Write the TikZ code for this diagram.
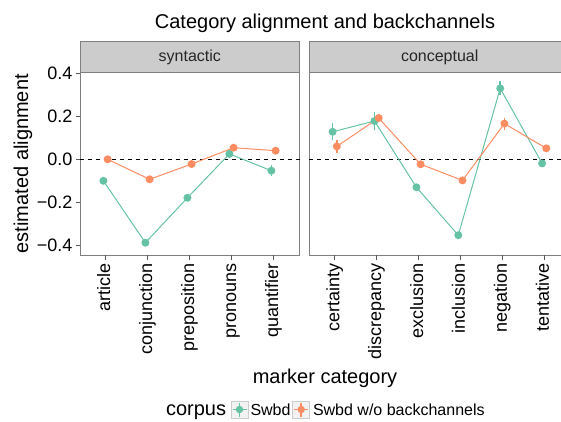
\documentclass[tikz,border=0pt]{standalone}
\usepackage{fontspec}
\setmainfont{Liberation Sans}
\usetikzlibrary{positioning}

\definecolor{swbd}{HTML}{66C2A5}
\definecolor{nobc}{HTML}{FC8D62}
\definecolor{frame}{HTML}{7F7F7F}
\definecolor{stripfill}{HTML}{CCCCCC}
\definecolor{keyfill}{HTML}{F2F2F2}

\begin{document}
\begin{tikzpicture}[x=1pt,y=-1pt,
  every node/.style={inner sep=0pt,outer sep=0pt},
  panel/.style={draw=frame,line width=0.9pt},
  stripbox/.style={draw=frame,fill=stripfill,line width=0.9pt},
  striplabel/.style={font=\fontsize{16}{19}\selectfont,text=black!85},
  ticklabel/.style={font=\fontsize{18}{21}\selectfont,anchor=east},
  catlabel/.style={font=\fontsize{18}{21}\selectfont,rotate=90,anchor=east,
    text height=12.9pt,text depth=3.8pt},
  axistitle/.style={font=\fontsize{20}{24}\selectfont},
  tickmark/.style={draw=black!65,line width=0.9pt},
  zeroline/.style={draw=black,dash pattern=on 4pt off 4pt,line width=0.9pt},
  swline/.style={draw=swbd,line width=1pt},
  nbline/.style={draw=nobc,line width=1pt},
  swbar/.style={draw=swbd,line width=1.5pt},
  nbbar/.style={draw=nobc,line width=1.5pt},
  keybox/.style={draw=black!20,fill=keyfill,line width=0.8pt,minimum size=17pt},
  keylabel/.style={font=\fontsize{16}{19}\selectfont,anchor=base west}]

  \useasboundingbox (0,0) rectangle (561,421);
  \clip (0,0) rectangle (561,421);

  % title
  \node[font=\fontsize{20}{24}\selectfont] (title) at (325,23) {Category alignment and backchannels};

  % panels and strips
  \draw[stripbox] (80,41.7) rectangle (299.5,72.3);
  \draw[stripbox] (309.3,41.7) rectangle (570,72.3);
  \node[striplabel] (strip-syn) at (189.8,57) {syntactic};
  \node[striplabel] (strip-con) at (439.7,57) {conceptual};
  \draw[panel] (80,72.3) rectangle (299.5,255);
  \draw[panel] (309.3,72.3) rectangle (570,255);

  % zero lines
  \draw[zeroline] (80,159.3) -- (299.5,159.3);
  \draw[zeroline] (309.3,159.3) -- (570,159.3);

  % y axis
  \foreach \v/\txt in {0.4/0.4,0.2/0.2,0/0.0,-0.2/−0.2,-0.4/−0.4} {
    \draw[tickmark] (75.5,{159.3-215*(\v)}) -- (80,{159.3-215*(\v)});
    \node[ticklabel] (ytick\txt) at (72.5,{159.3-215*(\v)}) {\txt};
  }
  \node[axistitle,rotate=90,anchor=base] (ytitle) at (28,163.7) {estimated alignment};

  % syntactic markers
  \foreach \lab/\gval/\gerr/\oval/\oerr [count=\i] in
    {article/-0.100/0.010/0.000/0.008,
     conjunction/-0.388/0.012/-0.093/0.010,
     preposition/-0.179/0.010/-0.022/0.008,
     pronouns/0.025/0.012/0.054/0.010,
     quantifier/-0.053/0.025/0.040/0.010} {
    \pgfmathsetmacro{\cx}{105.5+42*(\i-1)}
    \coordinate (syn-g\i) at ({\cx-2.1},{159.3-215*(\gval)});
    \coordinate (syn-g\i-hi) at ({\cx-2.1},{159.3-215*(\gval+\gerr)});
    \coordinate (syn-g\i-lo) at ({\cx-2.1},{159.3-215*(\gval-\gerr)});
    \coordinate (syn-o\i) at ({\cx+2.1},{159.3-215*(\oval)});
    \coordinate (syn-o\i-hi) at ({\cx+2.1},{159.3-215*(\oval+\oerr)});
    \coordinate (syn-o\i-lo) at ({\cx+2.1},{159.3-215*(\oval-\oerr)});
    \draw[tickmark] (\cx,255) -- (\cx,259.5);
    \node[catlabel] (cat-\lab) at (\cx,263) {\lab};
  }

  % conceptual markers
  \foreach \lab/\gval/\gerr/\oval/\oerr [count=\i] in
    {certainty/0.128/0.039/0.060/0.030,
     discrepancy/0.178/0.043/0.192/0.018,
     exclusion/-0.130/0.010/-0.023/0.010,
     inclusion/-0.353/0.012/-0.098/0.010,
     negation/0.330/0.033/0.166/0.028,
     tentative/-0.019/0.012/0.051/0.012} {
    \pgfmathsetmacro{\cx}{334.7+41.9*(\i-1)}
    \coordinate (con-g\i) at ({\cx-2.1},{159.3-215*(\gval)});
    \coordinate (con-g\i-hi) at ({\cx-2.1},{159.3-215*(\gval+\gerr)});
    \coordinate (con-g\i-lo) at ({\cx-2.1},{159.3-215*(\gval-\gerr)});
    \coordinate (con-o\i) at ({\cx+2.1},{159.3-215*(\oval)});
    \coordinate (con-o\i-hi) at ({\cx+2.1},{159.3-215*(\oval+\oerr)});
    \coordinate (con-o\i-lo) at ({\cx+2.1},{159.3-215*(\oval-\oerr)});
    \draw[tickmark] (\cx,255) -- (\cx,259.5);
    \node[catlabel] (cat-\lab) at (\cx,263) {\lab};
  }

  % lines
  \draw[swline] (syn-g1) \foreach \i in {2,...,5} { -- (syn-g\i) };
  \draw[nbline] (syn-o1) \foreach \i in {2,...,5} { -- (syn-o\i) };
  \draw[swline] (con-g1) \foreach \i in {2,...,6} { -- (con-g\i) };
  \draw[nbline] (con-o1) \foreach \i in {2,...,6} { -- (con-o\i) };

  % point ranges
  \foreach \p/\n in {syn/5,con/6} {
    \foreach \i in {1,...,\n} {
      \draw[swbar] (\p-g\i-lo) -- (\p-g\i-hi);
      \fill[swbd] (\p-g\i) circle (4pt);
    }
    \foreach \i in {1,...,\n} {
      \draw[nbbar] (\p-o\i-lo) -- (\p-o\i-hi);
      \fill[nobc] (\p-o\i) circle (4pt);
    }
  }

  \node[axistitle,anchor=base] (xtitle) at (325,383.3) {marker category};

  % legend
  \node[axistitle,anchor=base west] (legtitle) at (166,415.5) {corpus};
  \node[keybox] (key-swbd) at (239.5,409.5) {};
  \node[keybox] (key-nobc) at (301.2,409.5) {};
  \draw[swline] ([xshift=-7pt]key-swbd.center) -- ([xshift=7pt]key-swbd.center);
  \draw[swbar] ([yshift=-7pt]key-swbd.center) -- ([yshift=7pt]key-swbd.center);
  \fill[swbd] (key-swbd.center) circle (3.7pt);
  \draw[nbline] ([xshift=-7pt]key-nobc.center) -- ([xshift=7pt]key-nobc.center);
  \draw[nbbar] ([yshift=-7pt]key-nobc.center) -- ([yshift=7pt]key-nobc.center);
  \fill[nobc] (key-nobc.center) circle (3.7pt);
  \node[keylabel] (lab-swbd) at (250.5,415.5) {Swbd};
  \node[keylabel] (lab-nobc) at (313,415.5) {Swbd w/o backchannels};
\end{tikzpicture}
\end{document}
